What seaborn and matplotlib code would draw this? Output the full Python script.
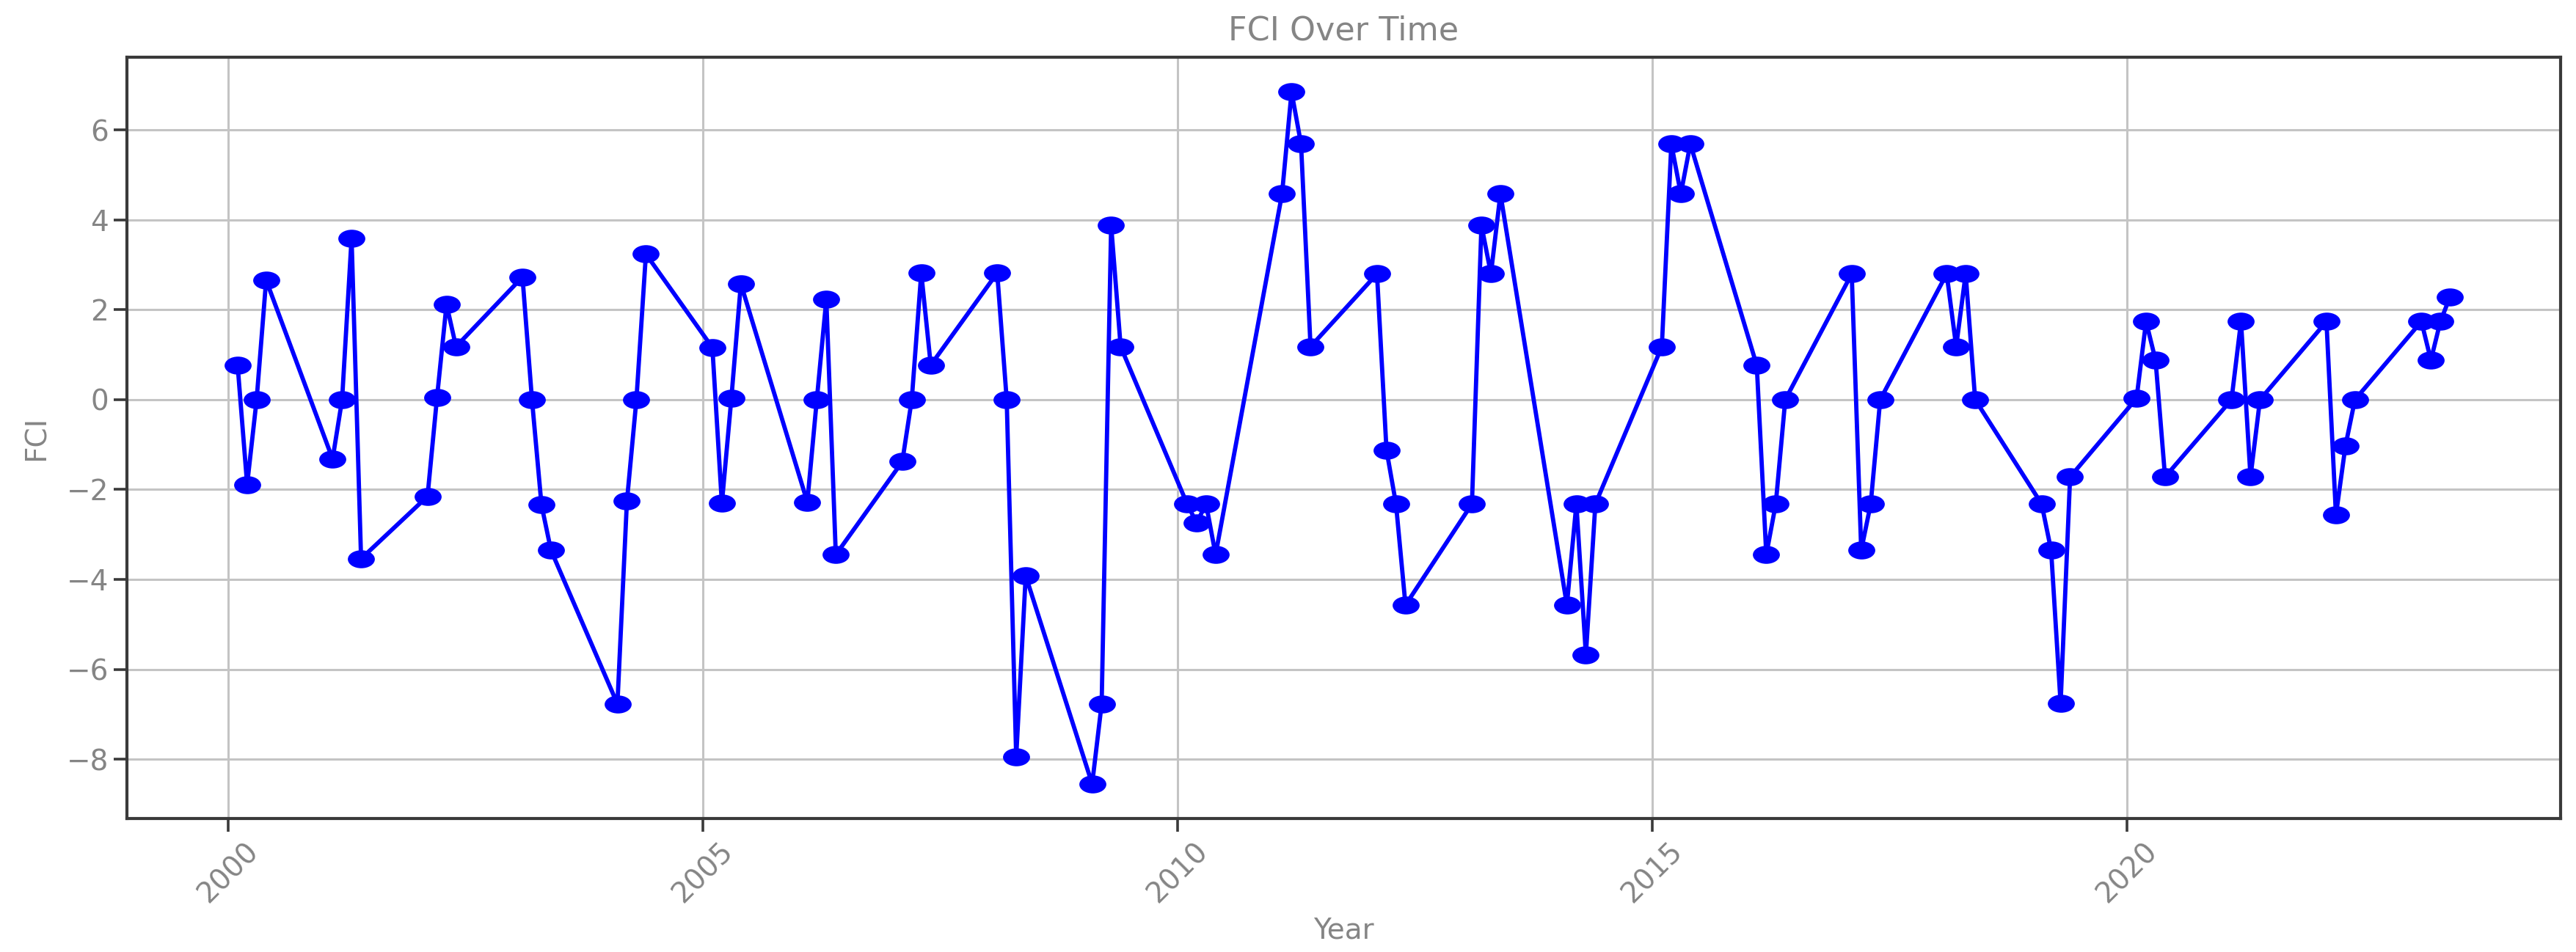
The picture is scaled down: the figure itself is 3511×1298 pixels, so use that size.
import numpy as np
import pandas as pd
import matplotlib
matplotlib.use("Agg")
import matplotlib.pyplot as plt
from matplotlib.path import Path
from matplotlib.transforms import Affine2D
import seaborn as sns

# quarterly periods stored as year + quarter/10 (2000.1 ... 2023.4)
years = list(range(2000, 2024))
quarters = [1, 2, 3, 4]

fci = [
    0.76, -1.89, 0.00, 2.66,    # 2000
    -1.32, 0.00, 3.59, -3.54,   # 2001
    -2.15, 0.05, 2.12, 1.18,    # 2002
    2.73, 0.00, -2.34, -3.35,   # 2003
    -6.77, -2.26, 0.00, 3.24,   # 2004
    1.16, -2.31, 0.03, 2.58,    # 2005
    -2.28, 0.00, 2.23, -3.45,   # 2006
    -1.38, 0.00, 2.82, 0.77,    # 2007
    2.82, 0.00, -7.95, -3.92,   # 2008
    -8.55, -6.77, 3.88, 1.18,   # 2009
    -2.32, -2.74, -2.32, -3.45, # 2010
    4.58, 6.85, 5.69, 1.18,     # 2011
    2.80, -1.12, -2.32, -4.57,  # 2012
    -2.32, 3.88, 2.80, 4.58,    # 2013
    -4.57, -2.32, -5.68, -2.32, # 2014
    1.18, 5.69, 4.58, 5.69,     # 2015
    0.76, -3.45, -2.32, 0.00,   # 2016
    2.80, -3.35, -2.32, 0.00,   # 2017
    2.80, 1.18, 2.80, 0.00,     # 2018
    -2.32, -3.35, -6.76, -1.72, # 2019
    0.03, 1.74, 0.88, -1.72,    # 2020
    0.00, 1.74, -1.72, 0.00,    # 2021
    1.74, -2.57, -1.03, 0.00,   # 2022
    1.74, 0.88, 1.74, 2.28,     # 2023
]

periods = [y + q / 10 for y in years for q in quarters]
df = pd.DataFrame({"Year": periods, "FCI": fci})

TEXT = "#858585"
SPINE = "#3a3a3a"
GRID = "#c4c4c4"

sns.set_style("ticks", {
    "axes.grid": True,
    "grid.color": GRID,
    "axes.edgecolor": SPINE,
})
plt.rcParams["font.family"] = ["DejaVu Sans"]
plt.rcParams.update({
    "axes.linewidth": 3.0,
    "grid.linewidth": 2.2,
    "xtick.major.size": 13,
    "ytick.major.size": 13,
    "xtick.major.width": 2.6,
    "ytick.major.width": 2.6,
    "xtick.color": SPINE,
    "ytick.color": SPINE,
    "xtick.labelcolor": TEXT,
    "ytick.labelcolor": TEXT,
})

# the source image is stretched sideways, so the dots are wide ellipses
ellipse = Path.unit_circle().transformed(Affine2D().scale(1.5, 1.0))

fig, ax = plt.subplots(figsize=(35.12, 12.98), dpi=100)
fig.subplots_adjust(left=0.0493, right=0.9937, top=0.9399, bottom=0.1402)

sns.lineplot(data=df, x="Year", y="FCI", ax=ax, color="#0000ff",
             linewidth=4.2, marker=ellipse, markersize=26.5,
             markeredgewidth=0, markerfacecolor="#0000ff")

ax.set_title("FCI Over Time", color=TEXT, fontsize=32, pad=17)
ax.set_xlabel("Year", color=TEXT, fontsize=28, labelpad=8)
ax.set_ylabel("FCI", color=TEXT, fontsize=28, labelpad=16)
ax.tick_params(axis="both", labelsize=28, pad=5)
plt.setp(ax.get_xticklabels(), rotation=45)

fig.savefig("out.png", dpi=100)
plt.close(fig)
